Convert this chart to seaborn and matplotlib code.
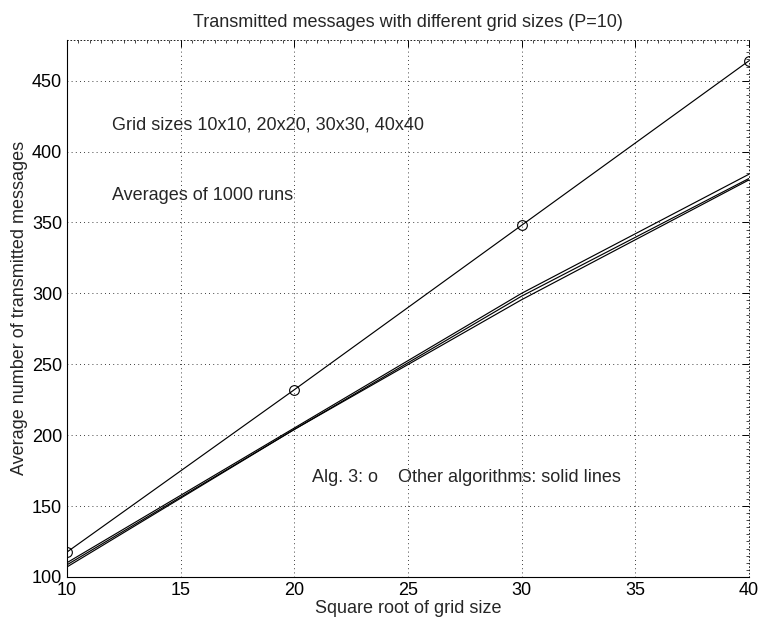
import matplotlib
matplotlib.use("Agg")
import matplotlib.pyplot as plt
from matplotlib.ticker import MultipleLocator
import numpy as np
import pandas as pd
import seaborn as sns

# Grid side lengths (square root of grid size)
grid_side = [10, 20, 30, 40]

# Average number of transmitted messages (1000 runs each)
alg3 = [117.5, 232, 348, 464]
other_a = [110, 205, 300, 384]
other_b = [108.5, 204, 298, 381]
other_c = [107, 204, 295.5, 380]

title = "Transmitted messages with different grid sizes (P=10)"
xlabel = "Square root of grid size"
ylabel = "Average number of transmitted messages"
note_sizes = "Grid sizes 10x10, 20x20, 30x30, 40x40"
note_runs = "Averages of 1000 runs"
note_legend = "Alg. 3: o    Other algorithms: solid lines"

sns.set_theme(style="white")
plt.rcParams["font.family"] = ["Liberation Sans", "DejaVu Sans"]
plt.rcParams["font.size"] = 13

df = pd.DataFrame({
    "x": grid_side * 4,
    "y": alg3 + other_a + other_b + other_c,
    "series": ["alg3"] * 4 + ["a"] * 4 + ["b"] * 4 + ["c"] * 4,
})

fig = plt.figure(figsize=(7.61, 6.24), dpi=100)
ax = fig.add_axes([0.088, 0.0755, 0.896, 0.861])

for name in ["a", "b", "c"]:
    sns.lineplot(data=df[df.series == name], x="x", y="y", ax=ax,
                 color="black", linewidth=0.85, legend=False)
sns.lineplot(data=df[df.series == "alg3"], x="x", y="y", ax=ax,
             color="black", linewidth=0.85, marker="o", markersize=7,
             markerfacecolor="none", markeredgecolor="black",
             markeredgewidth=0.8, legend=False)

ax.set_xlim(10, 40)
ax.set_ylim(100, 479)
ax.xaxis.set_major_locator(MultipleLocator(5))
ax.xaxis.set_minor_locator(MultipleLocator(0.5))
ax.yaxis.set_major_locator(MultipleLocator(50))
ax.yaxis.set_minor_locator(MultipleLocator(5))

ax.grid(True, which="major", color="black", linestyle=(0, (1, 4)), linewidth=0.6)
ax.tick_params(which="both", direction="in", top=True, right=True,
               colors="black", labelsize=13, pad=3.5)
ax.tick_params(which="major", length=5, width=0.7)
ax.tick_params(which="minor", length=2.5, width=0.5)

for side in ["left", "bottom"]:
    ax.spines[side].set_color("black")
    ax.spines[side].set_linewidth(0.8)
for side in ["top", "right"]:
    ax.spines[side].set_color("black")
    ax.spines[side].set_linewidth(0.6)
    ax.spines[side].set_linestyle((0, (1, 3)))

ax.set_title(title, fontsize=13, pad=9)
ax.set_xlabel(xlabel, fontsize=13, labelpad=1)
ax.set_ylabel(ylabel, fontsize=13, labelpad=3)

ax.text(12.0, 419, note_sizes, fontsize=13, va="center", ha="left")
ax.text(12.0, 369, note_runs, fontsize=13, va="center", ha="left")
ax.text(20.8, 170, note_legend, fontsize=13, va="center", ha="left")

fig.savefig("out.png", dpi=100, facecolor="white")
